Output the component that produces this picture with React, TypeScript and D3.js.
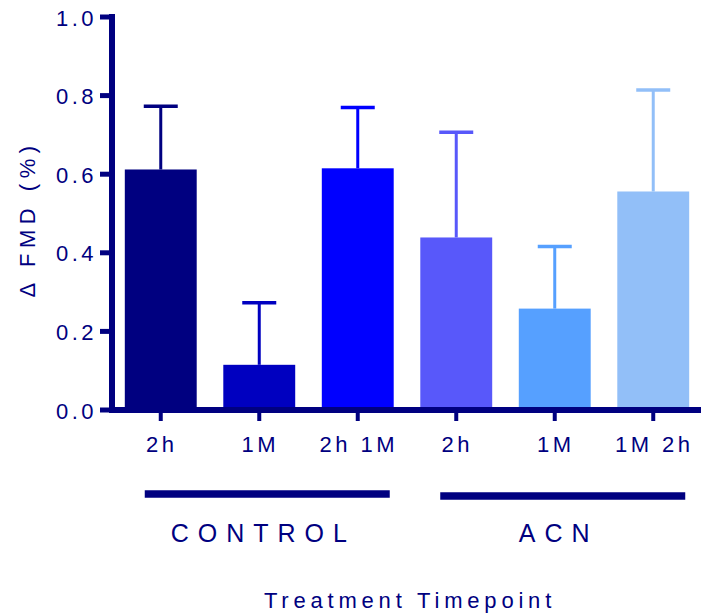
import React from "react";
import * as d3 from "d3";

// bar categories and values
const categories = ["C-2h", "C-1M", "C-2h1M", "A-2h", "A-1M", "A-1M2h"];
const tickLabels = ["2h", "1M", "2h 1M", "2h", "1M", "1M 2h"];
const means = [0.612, 0.115, 0.615, 0.439, 0.258, 0.556];
const errors = [0.161, 0.158, 0.155, 0.268, 0.158, 0.258];
const colors = ["#000080", "#0000C0", "#0000FF", "#5858FA", "#56A0FF", "#92BFF8"];
const yTicks = [0, 0.2, 0.4, 0.6, 0.8, 1.0];

const groups = [
    { name: "CONTROL", from: "C-2h", to: "C-2h1M" },
    { name: "ACN", from: "A-2h", to: "A-1M2h" },
];

const W = 701;
const H = 616;
const navy = "#000080";
const font = "'Liberation Sans', Arial, sans-serif";

const App = () => {
    const x = d3.scaleBand().domain(categories).range([112, 702]).paddingInner(0.27).paddingOuter(0.13);
    const y = d3.scaleLinear().domain([0, 1]).range([410, 17]);
    const bw = x.bandwidth();
    const capHalf = 17;

    return (
        <svg
            width={W}
            height={H}
            style={{ position: "absolute", left: 0, top: 0, background: "#fff", display: "block" }}
        >
            {/* bars */}
            {categories.map((c, i) => (
                <rect
                    key={c}
                    x={x(c)}
                    y={y(means[i])}
                    width={bw}
                    height={y(0) - y(means[i])}
                    fill={colors[i]}
                />
            ))}

            {/* error bars (upper only) */}
            {categories.map((c, i) => {
                const cx = (x(c) as number) + bw / 2;
                const top = y(means[i] + errors[i]);
                return (
                    <g key={"e" + c} stroke={colors[i]}>
                        <line x1={cx} x2={cx} y1={y(means[i])} y2={top} strokeWidth={3} />
                        <line x1={cx - capHalf} x2={cx + capHalf} y1={top} y2={top} strokeWidth={3.5} />
                    </g>
                );
            })}

            {/* y axis */}
            <line x1={112} x2={112} y1={14} y2={413} stroke={navy} strokeWidth={6} />
            {yTicks.map((t) => (
                <g key={t}>
                    <line x1={100} x2={112} y1={y(t)} y2={y(t)} stroke={navy} strokeWidth={5} />
                    <text
                        x={97}
                        y={y(t) + 8.5}
                        textAnchor="end"
                        fontFamily={font}
                        fontSize={22}
                        letterSpacing={3.5}
                        fill={navy}
                    >
                        {t.toFixed(1)}
                    </text>
                </g>
            ))}

            {/* x axis */}
            <line x1={109} x2={701} y1={y(0)} y2={y(0)} stroke={navy} strokeWidth={6} />
            {categories.map((c, i) => {
                const cx = (x(c) as number) + bw / 2;
                return (
                    <g key={"t" + c}>
                        <line x1={cx} x2={cx} y1={y(0)} y2={421} stroke={navy} strokeWidth={4} />
                        <text
                            x={cx + 1}
                            y={452}
                            textAnchor="middle"
                            fontFamily={font}
                            fontSize={22}
                            letterSpacing={3.5}
                            fill={navy}
                            style={{ whiteSpace: "pre" }}
                        >
                            {tickLabels[i]}
                        </text>
                    </g>
                );
            })}

            {/* group brackets */}
            {groups.map((g, i) => {
                const x0 = (x(g.from) as number) + bw / 2 - 16;
                const x1 = (x(g.to) as number) + bw / 2 + 32;
                const ly = i === 0 ? 494 : 496;
                return (
                    <g key={g.name}>
                        <line x1={x0} x2={x1} y1={ly} y2={ly} stroke={navy} strokeWidth={7.5} />
                        <text
                            x={(x(categories[i * 3 + 1]) as number) + bw / 2 + 4}
                            y={542}
                            textAnchor="middle"
                            fontFamily={font}
                            fontSize={25}
                            letterSpacing={9}
                            fill={navy}
                        >
                            {g.name}
                        </text>
                    </g>
                );
            })}

            {/* axis titles */}
            <text
                x={410}
                y={608}
                textAnchor="middle"
                fontFamily={font}
                fontSize={22}
                letterSpacing={4.8}
                fill={navy}
            >
                Treatment Timepoint
            </text>
            <text
                transform="translate(35,219) rotate(-90)"
                textAnchor="middle"
                fontFamily={font}
                fontSize={22}
                letterSpacing={5.5}
                fill={navy}
            >
                Δ FMD (%)
            </text>
        </svg>
    );
};

export default App;
